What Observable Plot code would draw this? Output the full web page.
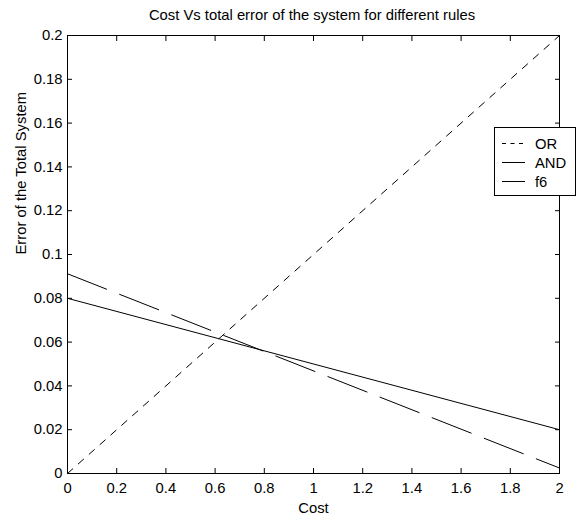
<!DOCTYPE html>
<html>
<head>
<meta charset="utf-8">
<script src="https://cdn.jsdelivr.net/npm/d3@7"></script>
<script src="https://cdn.jsdelivr.net/npm/@observablehq/plot@0.6"></script>
<style>
  html, body { margin: 0; padding: 0; background: white; }
  body { width: 578px; height: 517px; position: relative; overflow: hidden; font-family: 'Liberation Sans', Arial, sans-serif; }
  #title { width: 578px; height: 30px; line-height: 30px; box-sizing: border-box; padding-left: 46px; text-align: center; font-size: 14.8px; color: #000; white-space: nowrap; }
  #legend { position: absolute; left: 494px; top: 127px; width: 82px; height: 69px; box-sizing: border-box; border: 1px solid #000; background: #fff; }
  svg { display: block; }
</style>
</head>
<body>
<div id="title">Cost Vs total error of the system for different rules</div>
<div id="chart"></div>
<div id="legend"></div>
<script>
// ---- data ----
const cost = [0, 2];
const orValues = [0, 0.2];
const andValues = [0.08, 0.02];
const f6Values = [0.0912, 0.0025];
const seriesNames = ["OR", "AND", "f6"];
const xTicks = [0, 0.2, 0.4, 0.6, 0.8, 1, 1.2, 1.4, 1.6, 1.8, 2];
const xTickLabels = ["0", "0.2", "0.4", "0.6", "0.8", "1", "1.2", "1.4", "1.6", "1.8", "2"];
const yTicks = [0, 0.02, 0.04, 0.06, 0.08, 0.1, 0.12, 0.14, 0.16, 0.18, 0.2];
const yTickLabels = ["0", "0.02", "0.04", "0.06", "0.08", "0.1", "0.12", "0.14", "0.16", "0.18", "0.2"];
const xLabel = "Cost";
const yLabel = "Error of the Total System";

// ---- styles ----
const dashes = {OR: "7,7.5", AND: null, f6: "42,14"};
const legendDashes = {OR: "4,4.5", AND: null, f6: null};

const table = [];
const valuesBySeries = {OR: orValues, AND: andValues, f6: f6Values};
for (const s of seriesNames) {
  cost.forEach((c, i) => table.push({series: s, cost: c, error: valuesBySeries[s][i]}));
}

const font = "'Liberation Sans', Arial, sans-serif";
const plot = Plot.plot({
  width: 578,
  height: 487,
  marginTop: 5,
  marginBottom: 44,
  marginLeft: 67,
  marginRight: 19,
  style: {fontFamily: font, fontSize: "14.8px", background: "white", color: "black", overflow: "visible"},
  x: {domain: [0, 2]},
  y: {domain: [0, 0.2]},
  marks: [
    ...seriesNames.map(s => Plot.line(table.filter(d => d.series === s), {
      x: "cost", y: "error", stroke: "black", strokeWidth: 1, strokeDasharray: dashes[s]
    })),
    Plot.frame({stroke: "black", strokeWidth: 1}),
    Plot.axisX({anchor: "bottom", ticks: xTicks, tickSize: -5, tickPadding: 14, label: null, stroke: "black", fill: "black",
      tickFormat: d => xTickLabels[xTicks.indexOf(d)]}),
    Plot.axisX({anchor: "top", ticks: xTicks, tickSize: -5, tickFormat: () => "", label: null, stroke: "black"}),
    Plot.axisY({anchor: "left", ticks: yTicks, tickSize: -5, tickPadding: 10, label: null, stroke: "black", fill: "black",
      tickFormat: d => yTickLabels[yTicks.indexOf(d)]}),
    Plot.axisY({anchor: "right", ticks: yTicks, tickSize: -5, tickFormat: () => "", label: null, stroke: "black"}),
    Plot.text([xLabel], {frameAnchor: "bottom", dy: 35, lineAnchor: "middle", fill: "black"}),
    Plot.text([yLabel], {frameAnchor: "left", dx: -46, rotate: -90, lineAnchor: "middle", fill: "black"})
  ]
});
document.getElementById("chart").appendChild(plot);

// ---- legend ----
const legend = d3.select("#legend");
const lsvg = legend.append("svg").attr("width", 82).attr("height", 69).style("position", "absolute").style("left", "-1px").style("top", "-1px")
  .style("font-family", font).style("font-size", "14.8px");
seriesNames.forEach((s, i) => {
  const cy = 16.5 + i * 19;
  lsvg.append("line").attr("x1", 8).attr("x2", 31).attr("y1", cy).attr("y2", cy)
    .attr("stroke", "black").attr("stroke-width", 1)
    .attr("stroke-dasharray", legendDashes[s]);
  lsvg.append("text").attr("x", 41).attr("y", cy).attr("dy", "0.36em").attr("fill", "black").text(s);
});
</script>
</body>
</html>
